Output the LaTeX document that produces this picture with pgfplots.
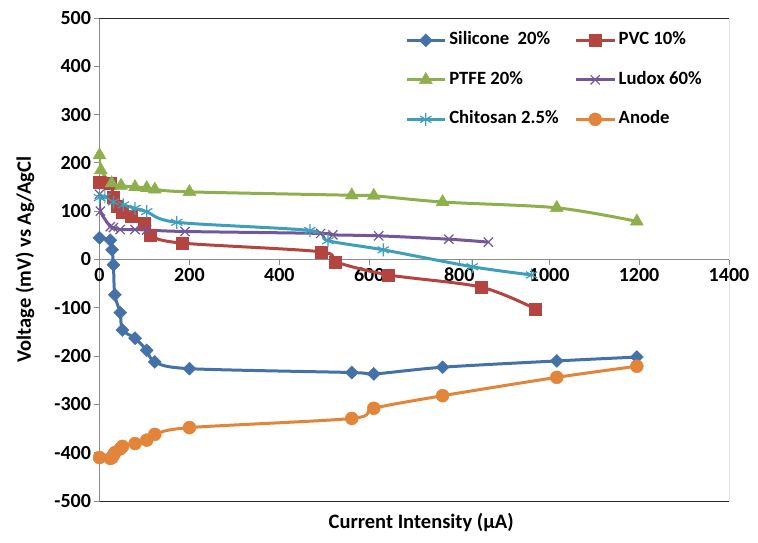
\documentclass[border=0pt]{standalone}
\usepackage{fontspec}
\setmainfont{Carlito}
\usepackage{pgfplots}
\pgfplotsset{compat=1.18}
\definecolor{cBlue}{HTML}{4472A8}
\definecolor{cRed}{HTML}{B3443F}
\definecolor{cGreen}{HTML}{8EB04C}
\definecolor{cPurple}{HTML}{72589A}
\definecolor{cCyan}{HTML}{3E9FBD}
\definecolor{cOrange}{HTML}{E2843A}
\begin{document}
\begin{tikzpicture}
\begin{axis}[
 scale only axis, width=629.5pt, height=483pt,
 xmin=0, xmax=1400, ymin=-500, ymax=500,
 xtick={0,200,...,1400}, ytick={-500,-400,...,500},
 axis x line*=middle, axis y line*=left,
 hide obscured x ticks=false, hide obscured y ticks=false,
 axis line style={draw=black!45, line width=0.8pt},
 tick style={draw=black!45, line width=0.8pt},
 major tick length=5pt,
 tick align=outside,
 ticklabel style={font=\fontsize{20}{20}\selectfont\bfseries},
 /pgf/number format/assume math mode=true,
 /pgf/number format/1000 sep={},
 xlabel={Current Intensity (µA)}, ylabel={Voltage (mV) vs Ag/AgCl},
 label style={font=\fontsize{20.5}{20.5}\selectfont\bfseries},
 xlabel style={at={(axis description cs:0.511,-0.0435)}, anchor=center},
 ylabel style={at={(axis description cs:-0.1183,0.5)}, anchor=center},
 legend columns=2,
 legend cell align=left,
 legend style={draw=none, fill=none, at={(axis cs:673,480)}, anchor=north west,
   font=\fontsize{18.7}{18.7}\selectfont\bfseries,
   nodes={text height=13pt, text depth=4pt, inner sep=2pt},
   row sep=18.5pt, column sep=1pt,
   /tikz/column 2/.style={column sep=14pt}},
 legend image code/.code={\draw[mark repeat=2, mark phase=2] plot coordinates {(0pt,0pt) (19pt,0pt) (38pt,0pt)};},
 every axis plot/.append style={line width=3pt, smooth, tension=0.5},
]
\coordinate (sw) at (rel axis cs:0,0);
\coordinate (ne) at (rel axis cs:1,1);
\draw[black!85, line width=0.8pt] (rel axis cs:0,0) -- (rel axis cs:1,0) -- (rel axis cs:1,1) -- (rel axis cs:0,1);

\addplot[cBlue, mark=square*, mark size=4.6pt, mark options={rotate=45, line width=0.4pt, fill=cBlue}] coordinates {
(0,45) (24,40) (28,20) (31,-11) (34,-73) (46,-110) (51,-146) (79,-163) (105,-188) (123,-212) (200,-226) (561,-234) (610,-237) (763,-223) (1017,-210) (1195,-202)};
\addlegendentry{Silicone\ \ 20\%}

\addplot[cRed, mark=square*, mark size=6pt, mark options={line width=0.4pt, fill=cRed}] coordinates {
(0,160) (24,157) (31,130) (40,110) (51,98) (70,90) (100,75) (112,50) (183,34) (492,16) (525,-5) (643,-32) (848,-57) (969,-102)};
\addlegendentry{PVC 10\%}

\addplot[cGreen, mark=triangle*, mark size=7.5pt, mark options={line width=0.4pt, fill=cGreen}] coordinates {
(0,216) (3,185) (27,158) (48,153) (79,150) (105,148) (123,145) (200,140) (561,133) (610,132) (763,119) (1017,107) (1195,79)};
\addlegendentry{PTFE 20\%}

\addplot[cPurple, mark=x, mark size=6.5pt, mark options={line width=1.2pt}] coordinates {
(0,135) (2,100) (24,68) (31,66) (46,62) (79,62) (105,61) (190,58) (492,54) (519,51) (621,49) (777,42) (865,36)};
\addlegendentry{Ludox 60\%}

\addplot[cCyan, mark=asterisk, mark size=6.5pt, mark options={line width=1.2pt}] coordinates {
(0,128) (12,130) (31,119) (53,113) (79,106) (105,99) (172,77) (468,60) (508,39) (631,20) (829,-15) (961,-32)};
\addlegendentry{Chitosan 2.5\%}

\addplot[cOrange, mark=*, mark size=6.5pt, mark options={line width=0.4pt, fill=cOrange}] coordinates {
(0,-410) (24,-412) (28,-410) (31,-405) (34,-400) (46,-392) (51,-387) (79,-381) (105,-374) (123,-362) (200,-348) (561,-329) (610,-308) (763,-282) (1017,-244) (1195,-221)};
\addlegendentry{Anode}
\end{axis}
\path ([shift={(-99.5pt,-41pt)}]sw) rectangle ([shift={(29pt,18pt)}]ne);
\end{tikzpicture}
\end{document}
